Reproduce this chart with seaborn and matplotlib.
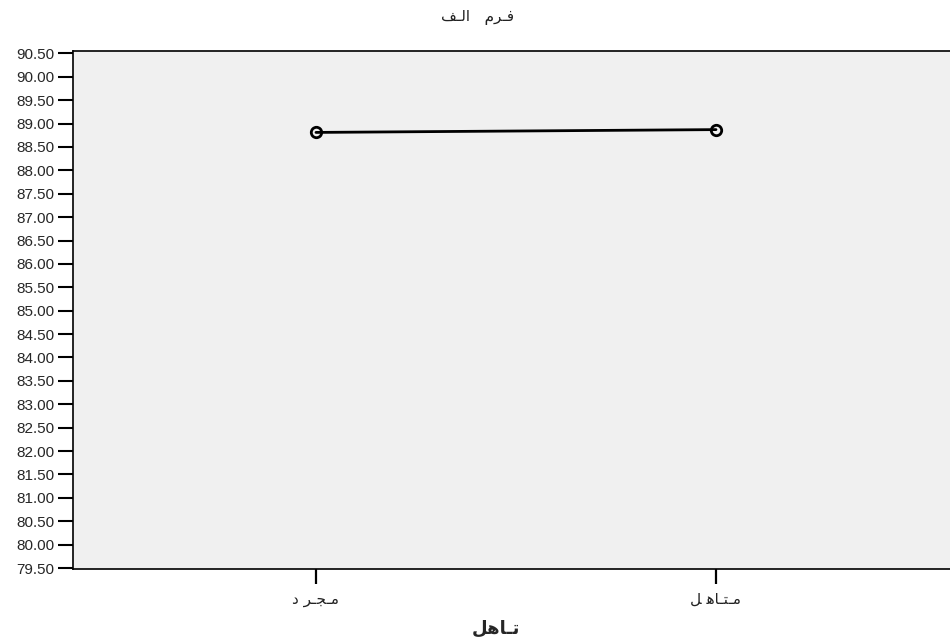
import pandas as pd
import matplotlib.pyplot as plt
import seaborn as sns

# Arabic text written in presentation forms, visual (left-to-right) order,
# since matplotlib does no Arabic shaping
titulo = '\uFED2\u0640\uFEDF\uFE8D   \uFEE1\uFEAE\u0640\uFED3'        # فرم الف
rotulo_x = '\uFEDE\uFEEB\uFE8E\u0640\uFE97'                         # تاهل
categorias = ['\uFEA9 \uFEAE\u0640\uFEA0\u0640\uFEE3',               # مجرد
              '\uFEDE \uFEEB\uFE8E\u0640\uFE98\u0640\uFEE3']         # متاهل
medias = [88.81, 88.87]
y_ticks = [79.5 + 0.5 * i for i in range(23)]

df = pd.DataFrame({'grupo': categorias, 'media': medias})

sns.set_style('white')
plt.rcParams['font.family'] = ['Liberation Sans', 'DejaVu Sans']

fig = plt.figure(figsize=(9.5, 6.44), dpi=100)
ax = fig.add_axes([0.0768, 0.1165, 0.9232, 0.8043])
ax.set_facecolor('#F0F0F0')

sns.lineplot(
    x='grupo', y='media', data=df, ax=ax,
    color='black', linewidth=2, marker='o', markersize=7.5,
    markerfacecolor='none', markeredgecolor='black', markeredgewidth=2,
)

ax.set_xlim(-0.6075, 1.585)
ax.set_ylim(79.48, 90.55)
ax.set_yticks(y_ticks)
ax.set_yticklabels([f'{v:.2f}' for v in y_ticks], fontsize=11)
ax.set_xticks(range(len(categorias)))
ax.set_xticklabels(categorias, fontsize=11, family='DejaVu Sans', color='#222222')

ax.tick_params(axis='y', left=True, direction='out', length=10.5, width=1.5, color='black', pad=3)
ax.tick_params(axis='x', bottom=True, direction='out', length=10.5, width=1.6, color='black', pad=6)

for side in ['left', 'bottom', 'top']:
    ax.spines[side].set_color('black')
    ax.spines[side].set_linewidth(1.2)
ax.spines['right'].set_visible(False)

ax.set_xlabel(rotulo_x, fontsize=13, fontweight='bold', family='DejaVu Sans')
ax.xaxis.set_label_coords(0.482, -0.098)
ax.set_ylabel('')
fig.text(0.503, 0.984, titulo, ha='center', va='top', fontsize=11, family='DejaVu Sans', color='#222222')

fig.savefig('out.png', dpi=100)
